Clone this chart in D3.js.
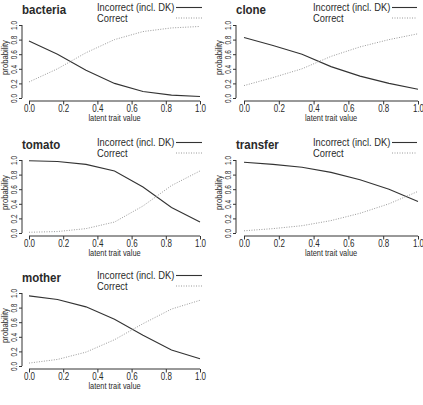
<!DOCTYPE html>
<html>
<head>
<meta charset="utf-8">
<script src="https://cdn.jsdelivr.net/npm/d3@7"></script>
<style>
	body { margin:0; background:#fff; }
	svg { display:block; font-family:"Liberation Sans",Arial,sans-serif; }
</style>
</head>
<body>
<svg id="chart" width="423" height="405"></svg>
<script>
	// latent trait grid and item curves
	var traitX = [0, 1/6, 2/6, 3/6, 4/6, 5/6, 1];
	var items = ["bacteria", "clone", "tomato", "transfer", "mother"];
	var incorrect = {
		bacteria: [0.78, 0.60, 0.38, 0.20, 0.09, 0.04, 0.02],
		clone:    [0.83, 0.72, 0.60, 0.43, 0.30, 0.20, 0.12],
		tomato:   [0.99, 0.98, 0.94, 0.85, 0.63, 0.35, 0.15],
		transfer: [0.97, 0.94, 0.90, 0.83, 0.73, 0.60, 0.43],
		mother:   [0.96, 0.91, 0.81, 0.64, 0.42, 0.22, 0.10]
	};
	var correct = {
		bacteria: [0.22, 0.40, 0.62, 0.80, 0.91, 0.96, 0.98],
		clone:    [0.17, 0.28, 0.40, 0.57, 0.70, 0.80, 0.88],
		tomato:   [0.01, 0.02, 0.06, 0.15, 0.37, 0.65, 0.85],
		transfer: [0.03, 0.06, 0.10, 0.17, 0.27, 0.40, 0.57],
		mother:   [0.04, 0.09, 0.19, 0.36, 0.58, 0.78, 0.90]
	};
	var xTicks = [0, 0.2, 0.4, 0.6, 0.8, 1.0];
	var yTicks = [0, 0.2, 0.4, 0.6, 0.8, 1.0];
	var legendLabels = ["Incorrect (incl. DK)", "Correct"];

	var svg = d3.select("#chart");
	var rowY = [0, 135, 268];
	// column layout: offset, y-axis x, plot x range, legend x, legend line
	var cols = [
		{off:0,   ax:22, x0:29, x1:200, lx:97,  l0:176, l1:202},
		{off:212, ax:24, x0:32, x1:206, lx:101, l0:180, l1:205}
	];
	var ink = "#2a2a2a";

	// narrow R-style text: horizontal squeeze
	function ctext(g, x, y, str, size, k, anchor, rot) {
		return g.append("text")
			.attr("transform", "translate(" + x + "," + y + ")" + (rot ? " rotate(-90)" : "") + " scale(" + k + ",1)")
			.style("font-size", size + "px").style("fill", ink)
			.style("text-anchor", anchor || "start").text(str);
	}

	items.forEach(function(name, i) {
		var c = cols[i % 2], ry = rowY[Math.floor(i / 2)];
		var g = svg.append("g").attr("transform", "translate(" + c.off + "," + ry + ")");
		var sx = d3.scaleLinear().domain([0, 1]).range([c.x0, c.x1]);
		var sy = d3.scaleLinear().domain([0, 1]).range([98, 25]);

		ctext(g, c.ax, 14, name, 12.5, 0.92).style("font-weight", "bold");

		// legend
		legendLabels.forEach(function(l, k) {
			ctext(g, c.lx, 11 + k * 10.5, l, 11, 0.85);
			g.append("line").attr("x1", c.l0).attr("x2", c.l1)
				.attr("y1", 7.5 + k * 10.5).attr("y2", 7.5 + k * 10.5)
				.attr("stroke", k ? "#9a9a9a" : "#333").attr("stroke-width", k ? 1 : 1.1)
				.attr("stroke-dasharray", k ? "1,1.5" : null);
		});

		// y axis
		var ya = g.append("g").attr("transform", "translate(" + c.ax + ",0)")
			.call(d3.axisLeft(sy).tickValues(yTicks).tickSize(3).tickFormat(d3.format(".1f")));
		ya.select(".domain").attr("d", "M0," + sy(0) + "V" + sy(1)).attr("stroke", "#333");
		ya.selectAll(".tick line").attr("stroke", "#333");
		ya.selectAll(".tick text").attr("transform", "rotate(-90) scale(0.72,1)")
			.attr("x", 0).attr("y", -5).attr("dy", 0)
			.style("text-anchor", "middle").style("font-size", "9px").style("fill", ink)
			.style("font-family", null);
		ctext(g, c.ax - 14, (sy(0) + sy(1)) / 2 - 4, "probability", 9, 0.85, "middle", true);

		// x axis
		var xa = g.append("g").attr("transform", "translate(0,101)")
			.call(d3.axisBottom(sx).tickValues(xTicks).tickSize(3.5).tickFormat(d3.format(".1f")));
		xa.select(".domain").attr("d", "M" + sx(0) + ",0H" + sx(1)).attr("stroke", "#333");
		xa.selectAll(".tick line").attr("stroke", "#333");
		xa.selectAll(".tick text").attr("y", 11).attr("dy", 0).attr("transform", "scale(0.8,1)")
			.style("font-size", "10px").style("fill", ink).style("font-family", null);
		ctext(g, (sx(0) + sx(1)) / 2, 121, "latent trait value", 9.5, 0.78, "middle");

		var line = d3.line().x(function(d, j) { return sx(traitX[j]); }).y(function(d) { return sy(d); });
		g.append("path").datum(incorrect[name]).attr("d", line)
			.attr("fill", "none").attr("stroke", "#333").attr("stroke-width", 1.1);
		g.append("path").datum(correct[name]).attr("d", line)
			.attr("fill", "none").attr("stroke", "#9a9a9a").attr("stroke-width", 1)
			.attr("stroke-dasharray", "1,1.5");
	});
</script>
</body>
</html>
